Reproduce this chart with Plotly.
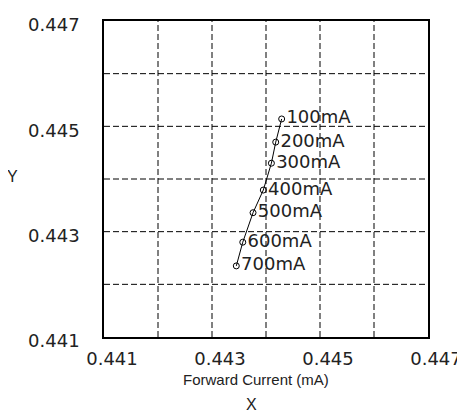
import plotly.graph_objects as go

labels = ["100mA", "200mA", "300mA", "400mA", "500mA", "600mA", "700mA"]
x_vals = [0.44429, 0.44418, 0.44410, 0.44395, 0.44376, 0.44357, 0.44345]
y_vals = [0.44514, 0.44470, 0.44430, 0.44379, 0.44336, 0.44280, 0.44235]
tick_vals = [0.441, 0.443, 0.445, 0.447]
tick_text = ["0.441", "0.443", "0.445", "0.447"]
grid_vals = [0.442, 0.443, 0.444, 0.445, 0.446]

tick_font = dict(family="DejaVu Sans", size=18, color="#222")

fig = go.Figure()
fig.add_trace(go.Scatter(
    x=x_vals, y=y_vals, mode="lines+markers+text",
    text=labels, textposition="middle right",
    textfont=dict(family="DejaVu Sans", size=18, color="#222"),
    line=dict(color="black", width=1),
    marker=dict(symbol="circle-open", size=6, color="black", line=dict(width=1)),
    showlegend=False, cliponaxis=False,
))

shapes = []
for g in grid_vals:
    shapes.append(dict(type="line", xref="x", yref="paper", x0=g, x1=g, y0=0, y1=1,
                       line=dict(color="black", width=1, dash="6px,3px"), layer="below"))
    shapes.append(dict(type="line", xref="paper", yref="y", x0=0, x1=1, y0=g, y1=g,
                       line=dict(color="black", width=1, dash="6px,3px"), layer="below"))

eps = 1e-7
fig.update_layout(
    width=465, height=414,
    margin=dict(l=96, r=45, t=6, b=85),
    paper_bgcolor="white", plot_bgcolor="white",
    shapes=shapes,
    xaxis=dict(range=[0.441 - eps, 0.447 + eps], tickvals=tick_vals, ticktext=tick_text,
               showgrid=False, zeroline=False, showline=True, linecolor="black",
               linewidth=1.5, mirror=True, ticks="", tickfont=tick_font,
               ticklabelshift=8, ticklabelstandoff=5),
    yaxis=dict(range=[0.441 - eps, 0.447 + eps], tickvals=tick_vals, ticktext=tick_text,
               showgrid=False, zeroline=False, showline=True, linecolor="black",
               linewidth=1.5, mirror=True, ticks="", tickfont=tick_font,
               ticklabelshift=4, ticklabelstandoff=19),
    annotations=[
        dict(text="Forward Current (mA)", xref="paper", yref="paper",
             x=(256 - 104) / 324, y=(337 - 380) / 323, showarrow=False,
             xanchor="center", yanchor="middle",
             font=dict(family="Liberation Sans", size=15, color="#222")),
        dict(text="X", xref="paper", yref="paper",
             x=(251 - 104) / 324, y=(337 - 406) / 323, showarrow=False,
             xanchor="center", yanchor="middle",
             font=dict(family="Liberation Sans", size=16, color="#222")),
        dict(text="Y", xref="paper", yref="paper",
             x=(12 - 104) / 324, y=(337 - 173) / 323, showarrow=False,
             xanchor="center", yanchor="middle",
             font=dict(family="Liberation Sans", size=16, color="#222")),
    ],
)

fig.write_html("out.html")
